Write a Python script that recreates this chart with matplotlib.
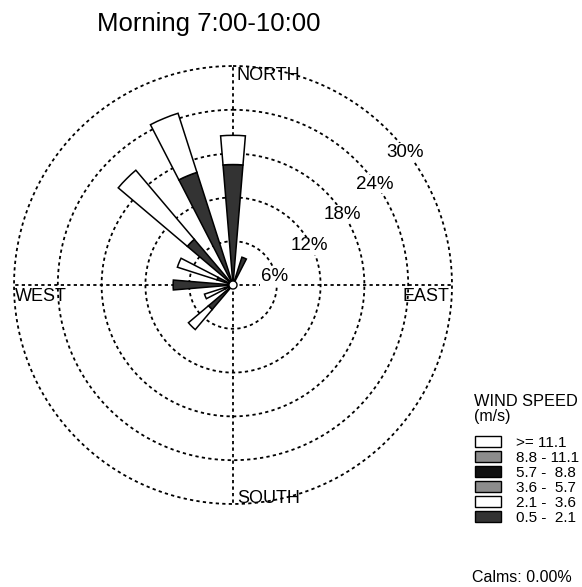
import numpy as np
import matplotlib
matplotlib.use("Agg")
import matplotlib.pyplot as plt
from matplotlib.patches import Rectangle

plt.rcParams['font.family'] = ['Liberation Sans', 'DejaVu Sans']

# ---- data ----
directions = ['N', 'NNE', 'NE', 'ENE', 'E', 'ESE', 'SE', 'SSE',
              'S', 'SSW', 'SW', 'WSW', 'W', 'WNW', 'NW', 'NNW']
dir_deg = [0, 22.5, 45, 67.5, 90, 112.5, 135, 157.5,
           180, 202.5, 225, 247.5, 270, 292.5, 315, 337.5]
speed_classes = ['0.5 -  2.1', '2.1 -  3.6', '3.6 -  5.7', '5.7 -  8.8', '8.8 - 11.1', '>= 11.1']
# frequency (%) per direction for each class
freq_05_21 = [16.5, 4.0, 0, 0, 0, 0, 0, 0, 0, 0, 4.4, 1.2, 8.2, 2.3, 8.2, 16.2]
freq_21_36 = [4.0, 0, 0, 0, 0, 0, 0, 0, 0, 0, 3.6, 2.9, 0, 5.7, 12.4, 8.5]
freq_36_57 = [0] * 16
freq_57_88 = [0] * 16
freq_88_111 = [0] * 16
freq_ge_111 = [0] * 16
class_freqs = [freq_05_21, freq_21_36, freq_36_57, freq_57_88, freq_88_111, freq_ge_111]
class_colors = ['#333333', 'white', '#8c8c8c', '#111111', '#8c8c8c', 'white']
rings = [6, 12, 18, 24, 30]
ring_labels = ['6%', '12%', '18%', '24%', '30%']
calms = 0.00
title = 'Morning 7:00-10:00'

# ---- figure ----
W, H = 582, 587
fig = plt.figure(figsize=(W / 100, H / 100), dpi=100)
cx, cy, R = 233, 285, 219
ax = fig.add_axes([(cx - R) / W, (H - cy - R) / H, 2 * R / W, 2 * R / H],
                  projection='polar')
ax.set_theta_zero_location('N')
ax.set_theta_direction(-1)
ax.set_ylim(0, rings[-1])
ax.set_axis_off()

# grid rings and axes lines
th = np.linspace(0, 2 * np.pi, 721)
for r in rings:
    ax.plot(th, np.full_like(th, r), color='black', lw=1.3,
            ls=(0, (1.8, 1.8)), zorder=1, clip_on=False)
for a in [0, 90, 180, 270]:
    ax.plot([np.deg2rad(a)] * 2, [0, rings[-1]], color='black', lw=1.3,
            ls=(0, (1.8, 1.8)), zorder=1, clip_on=False)

# petals
theta = np.deg2rad(dir_deg)
width = np.deg2rad(9.5)
bottom = np.zeros(len(directions))
for vals, col in zip(class_freqs, class_colors):
    vals = np.array(vals, dtype=float)
    m = vals > 0
    if m.any():
        ax.bar(theta[m], vals[m], width=width, bottom=bottom[m], color=col,
               edgecolor='black', linewidth=1.1, zorder=3)
    bottom += vals

# calm circle
cr = 0.55
ax.fill(th, np.full_like(th, cr), facecolor='white', edgecolor='black',
        lw=1.0, zorder=5)

# ring labels
lab_theta = [79, 63, 57, 54.5, 52.5]
for r, lab, t in zip(rings, ring_labels, lab_theta):
    ax.text(np.deg2rad(t), r - 0.2, lab, ha='center', va='center', fontsize=13.5,
            zorder=6, bbox=dict(facecolor='white', edgecolor='none', pad=0.5))

# direction labels
fs = 13
ax.annotate('NORTH', xy=(0, rings[-1]), xytext=(4, -1), textcoords='offset pixels',
            ha='left', va='top', fontsize=fs, annotation_clip=False)
ax.annotate('SOUTH', xy=(np.pi, rings[-1]), xytext=(4, 1), textcoords='offset pixels',
            ha='left', va='baseline', fontsize=fs, annotation_clip=False)
ax.annotate('WEST', xy=(1.5 * np.pi, rings[-1]), xytext=(1, -3), textcoords='offset pixels',
            ha='left', va='top', fontsize=fs, annotation_clip=False)
ax.annotate('EAST', xy=(0.5 * np.pi, rings[-1]), xytext=(-3, -3), textcoords='offset pixels',
            ha='right', va='top', fontsize=fs, annotation_clip=False)

# title
fig.text(209 / W, 1 - 31.5 / H, title, ha='center', va='baseline', fontsize=18.5)

# legend
fig.text(474 / W, 1 - 406 / H, 'WIND SPEED', ha='left', va='baseline', fontsize=11.8)
fig.text(474 / W, 1 - 421 / H, '(m/s)', ha='left', va='baseline', fontsize=11.5)
leg_order = list(range(len(speed_classes)))[::-1]
for k, i in enumerate(leg_order):
    top = 436 + 15 * k
    fig.patches.append(Rectangle((475 / W, 1 - (top + 11) / H), 26 / W, 11 / H,
                                 transform=fig.transFigure, facecolor=class_colors[i],
                                 edgecolor='black', lw=1.0))
    fig.text(516 / W, 1 - (top + 11) / H, speed_classes[i], ha='left', va='baseline',
             fontsize=11)
fig.text(472 / W, 1 - 582 / H, 'Calms: %.2f%%' % calms, ha='left', va='baseline',
         fontsize=11.5)

fig.savefig('out.png', dpi=100)
